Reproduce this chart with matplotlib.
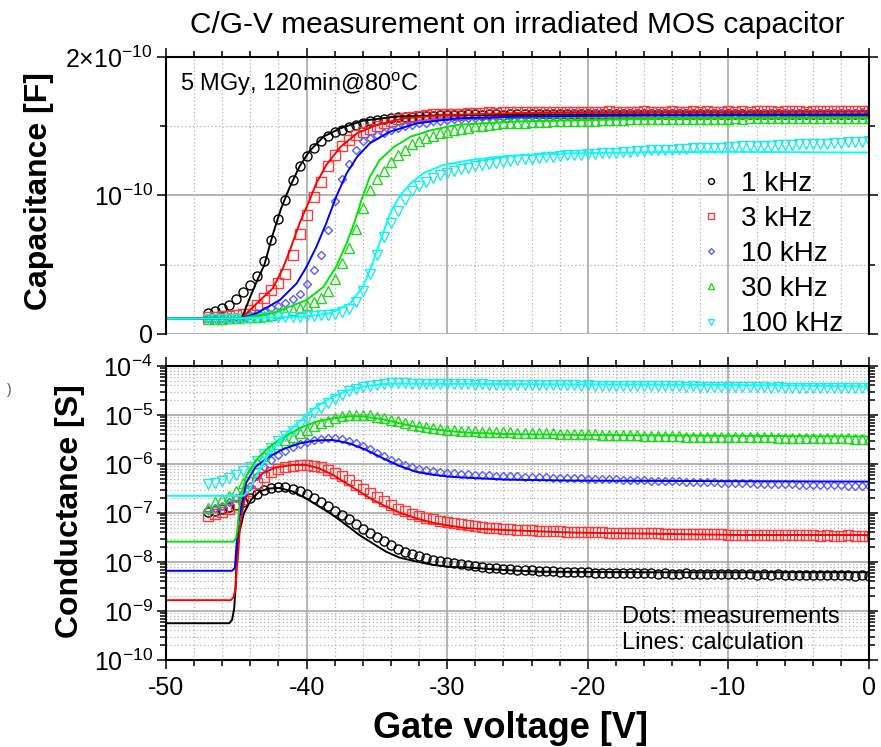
"""
C/G-V curves of an irradiated MOS capacitor: measured points and calculated lines.
"""

import numpy as np
import matplotlib
matplotlib.use('Agg')
import matplotlib.pyplot as plt
from matplotlib.ticker import MultipleLocator, FixedLocator, FixedFormatter, LogLocator, NullFormatter

plt.rcParams['font.family'] = 'Liberation Sans'
plt.rcParams['mathtext.fontset'] = 'custom'
plt.rcParams['mathtext.rm'] = 'Liberation Sans'
plt.rcParams['mathtext.it'] = 'Liberation Sans:italic'
plt.rcParams['mathtext.bf'] = 'Liberation Sans:bold'
plt.rcParams['mathtext.default'] = 'regular'
plt.rcParams['axes.unicode_minus'] = False

freq_labels = ['1 kHz', '3 kHz', '10 kHz', '30 kHz', '100 kHz']

# Measurement sweep: -47 V ... 0 V in 0.5 V steps
v_meas = np.linspace(-47, 0, 95)

# Measured capacitance [pF]
c_meas_1k = [15.5, 16.5, 18.5, 21, 25, 30, 35.5, 42, 53, 68,
             83, 97, 111, 121, 128.5, 134.5, 139.5, 143, 145.5, 147.5,
             149.5, 151, 152.5, 153.5, 154.5, 155.5, 156, 156.5, 157, 157,
             157.5, 157.5, 157.5, 158, 158, 158, 158, 158.5, 158.5, 158,
             158.5, 158.5, 158, 158.5, 158.5, 158.5, 158.5, 159, 158.5, 158.5,
             158.5, 158.5, 159, 158.5, 158.5, 158.5, 159, 158.5, 158.5, 158.5,
             158.5, 159, 158.5, 158.5, 158.5, 158.5, 158.5, 159, 158.5, 158.5,
             158.5, 158.5, 158.5, 158.5, 159, 158.5, 158.5, 158.5, 158.5, 158.5,
             158.5, 158.5, 158.5, 158.5, 158.5, 159, 158.5, 158.5, 158.5, 158.5,
             158.5, 158.5, 158.5, 158.5, 158.5]
c_meas_3k = [12.5, 12.5, 13, 13, 13.5, 14.5, 17, 21, 26, 32,
             37, 43, 57, 72, 86, 99, 110, 121, 129, 136,
             140, 143.5, 146, 148, 150, 152, 153.5, 155, 156, 157,
             157.5, 158, 158.5, 158.5, 159, 159, 159, 159.5, 159.5, 159.5,
             160, 159.5, 160, 160, 160, 160, 160.5, 160, 160, 160.5,
             160.5, 160, 160.5, 160.5, 160.5, 160.5, 160.5, 161, 160.5, 160.5,
             160.5, 160.5, 161, 160.5, 160.5, 160.5, 161, 160.5, 160.5, 161,
             160.5, 161, 160.5, 160.5, 161, 160.5, 161, 160.5, 161, 161,
             161, 160.5, 161, 161, 161, 160.5, 161, 161, 161, 161,
             161, 161, 161, 161, 161]
c_meas_10k = [11.5, 11.5, 11.5, 12, 12, 12.5, 13.5, 15, 16.5, 18.5,
              20, 22.5, 25, 29, 36, 46, 57, 75, 96, 112,
              123, 133, 139, 141.5, 143.5, 145, 147, 148.5, 150, 151,
              152, 152.5, 153.5, 154, 154.5, 155, 155.5, 156, 156, 156.5,
              156.5, 157, 157, 157, 157.5, 157.5, 157.5, 158, 158, 158,
              158, 158, 158.5, 158, 158.5, 158.5, 158.5, 158.5, 158.5, 159,
              158.5, 158.5, 159, 158.5, 159, 159, 158.5, 159, 159, 159,
              159, 159, 159, 159.5, 159, 159, 159, 159.5, 159, 159.5,
              159.5, 159, 159.5, 159.5, 159.5, 159, 159.5, 159.5, 159.5, 159.5,
              159.5, 159.5, 159.5, 160, 159.5]
c_meas_30k = [11, 11, 11, 11.5, 11.5, 12, 12, 12.5, 13, 14,
              15, 16, 17.5, 19, 21, 23, 26, 31, 40, 51,
              62, 76, 91, 104, 112, 118, 124, 129, 133, 137,
              139.5, 141.5, 143, 145, 146, 147, 148, 149, 150, 150.5,
              151, 151.5, 152, 152, 152.5, 152.5, 153, 153, 153, 153.5,
              153.5, 153.5, 154, 154, 154, 154, 154.5, 154.5, 154.5, 154.5,
              155, 155, 155, 155, 155, 155, 155.5, 155, 155.5, 155.5,
              155.5, 155.5, 155.5, 155.5, 155.5, 156, 155.5, 156, 156, 156,
              156, 156, 156, 156, 156, 156, 156, 156, 156, 156,
              156, 156, 156, 156, 156]
c_meas_100k = [10.5, 10.5, 10.5, 11, 11, 11, 11, 11.5, 11.5, 12,
               12, 12, 12.5, 12.5, 13, 13, 13.5, 14, 14.5, 16,
               18, 23, 31, 43, 57, 70, 80, 89, 97, 103,
               107, 110, 112.5, 114.5, 116, 117.5, 119, 120, 121, 122,
               123, 123.5, 124, 125, 125.5, 126, 126.5, 127, 127.5, 128,
               128.5, 129, 129, 129.5, 130, 130, 130.5, 131, 131, 131.5,
               131.5, 132, 132, 132.5, 132.5, 133, 133, 133.5, 133.5, 134,
               134, 134, 134.5, 134.5, 135, 135, 135.5, 135.5, 135.5, 136,
               136, 136.5, 136.5, 136.5, 137, 137, 137.5, 137.5, 137.5, 138,
               138, 138.5, 138.5, 138.5, 139]

# Measured conductance, log10(G / S)
g_meas_1k = [-6.98, -6.95, -6.92, -6.88, -6.83, -6.77, -6.70, -6.62, -6.54, -6.49,
             -6.47, -6.48, -6.51, -6.56, -6.62, -6.69, -6.77, -6.86, -6.95, -7.05,
             -7.12, -7.22, -7.32, -7.41, -7.50, -7.58, -7.66, -7.73, -7.79, -7.84,
             -7.88, -7.92, -7.95, -7.98, -8.00, -8.03, -8.05, -8.07, -8.09, -8.10,
             -8.12, -8.13, -8.14, -8.15, -8.16, -8.17, -8.17, -8.18, -8.19, -8.19,
             -8.20, -8.20, -8.21, -8.21, -8.21, -8.22, -8.22, -8.22, -8.23, -8.23,
             -8.23, -8.23, -8.22, -8.23, -8.24, -8.23, -8.24, -8.24, -8.23, -8.24,
             -8.24, -8.24, -8.25, -8.24, -8.25, -8.25, -8.24, -8.25, -8.26, -8.25,
             -8.26, -8.25, -8.26, -8.26, -8.27, -8.26, -8.27, -8.27, -8.26, -8.27,
             -8.27, -8.27, -8.28, -8.27, -8.28]
g_meas_3k = [-7.07, -7.03, -6.99, -6.92, -6.84, -6.72, -6.55, -6.38, -6.26, -6.17,
             -6.10, -6.06, -6.04, -6.02, -6.02, -6.04, -6.07, -6.12, -6.18, -6.25,
             -6.33, -6.42, -6.51, -6.60, -6.68, -6.76, -6.84, -6.91, -6.97, -7.02,
             -7.06, -7.10, -7.13, -7.16, -7.19, -7.21, -7.23, -7.25, -7.27, -7.28,
             -7.30, -7.31, -7.32, -7.33, -7.34, -7.35, -7.35, -7.36, -7.36, -7.37,
             -7.37, -7.38, -7.38, -7.38, -7.39, -7.39, -7.39, -7.40, -7.40, -7.40,
             -7.40, -7.41, -7.41, -7.41, -7.41, -7.42, -7.42, -7.42, -7.42, -7.43,
             -7.43, -7.43, -7.43, -7.43, -7.44, -7.44, -7.44, -7.44, -7.44, -7.44,
             -7.45, -7.44, -7.45, -7.45, -7.45, -7.45, -7.45, -7.46, -7.45, -7.46,
             -7.46, -7.45, -7.46, -7.46, -7.46]
g_meas_10k = [-6.94, -6.90, -6.85, -6.78, -6.70, -6.60, -6.45, -6.25, -6.07, -5.92,
              -5.82, -5.74, -5.66, -5.60, -5.55, -5.51, -5.49, -5.48, -5.48, -5.50,
              -5.54, -5.58, -5.63, -5.70, -5.77, -5.84, -5.91, -5.97, -6.02, -6.06,
              -6.10, -6.13, -6.15, -6.17, -6.18, -6.19, -6.20, -6.21, -6.22, -6.22,
              -6.23, -6.24, -6.24, -6.25, -6.25, -6.26, -6.26, -6.27, -6.27, -6.28,
              -6.28, -6.28, -6.29, -6.29, -6.30, -6.30, -6.31, -6.31, -6.31, -6.32,
              -6.32, -6.33, -6.33, -6.34, -6.34, -6.34, -6.35, -6.35, -6.36, -6.36,
              -6.36, -6.37, -6.37, -6.38, -6.38, -6.38, -6.39, -6.39, -6.40, -6.40,
              -6.40, -6.41, -6.41, -6.41, -6.42, -6.42, -6.42, -6.43, -6.43, -6.43,
              -6.43, -6.44, -6.44, -6.44, -6.44]
g_meas_30k = [-6.90, -6.78, -6.72, -6.65, -6.55, -6.38, -6.16, -5.98, -5.83, -5.70,
              -5.60, -5.52, -5.45, -5.37, -5.30, -5.23, -5.17, -5.12, -5.07, -5.03,
              -5.01, -5.00, -5.00, -5.01, -5.04, -5.07, -5.10, -5.13, -5.17, -5.20,
              -5.23, -5.25, -5.27, -5.29, -5.30, -5.31, -5.32, -5.33, -5.33, -5.34,
              -5.34, -5.35, -5.35, -5.35, -5.36, -5.36, -5.36, -5.37, -5.37, -5.37,
              -5.38, -5.38, -5.38, -5.39, -5.39, -5.39, -5.40, -5.40, -5.40, -5.41,
              -5.41, -5.41, -5.42, -5.42, -5.42, -5.43, -5.43, -5.43, -5.44, -5.44,
              -5.44, -5.44, -5.45, -5.45, -5.45, -5.45, -5.46, -5.46, -5.46, -5.46,
              -5.46, -5.47, -5.47, -5.47, -5.47, -5.47, -5.48, -5.48, -5.48, -5.48,
              -5.48, -5.48, -5.49, -5.49, -5.49]
g_meas_100k = [-6.41, -6.39, -6.35, -6.29, -6.22, -6.15, -6.07, -5.93, -5.80, -5.67,
               -5.54, -5.43, -5.32, -5.20, -5.08, -4.97, -4.86, -4.76, -4.67, -4.59,
               -4.52, -4.47, -4.43, -4.40, -4.38, -4.36, -4.35, -4.35, -4.35, -4.36,
               -4.36, -4.36, -4.36, -4.37, -4.37, -4.37, -4.37, -4.37, -4.38, -4.37,
               -4.38, -4.38, -4.38, -4.38, -4.38, -4.39, -4.38, -4.39, -4.39, -4.39,
               -4.39, -4.39, -4.39, -4.40, -4.39, -4.40, -4.40, -4.40, -4.40, -4.40,
               -4.40, -4.41, -4.40, -4.41, -4.41, -4.41, -4.41, -4.41, -4.42, -4.41,
               -4.42, -4.42, -4.42, -4.42, -4.43, -4.42, -4.43, -4.43, -4.43, -4.43,
               -4.44, -4.43, -4.44, -4.44, -4.44, -4.44, -4.45, -4.44, -4.45, -4.45,
               -4.45, -4.45, -4.46, -4.45, -4.46]

# Calculated capacitance [pF]
v_calc_c_1k = [-50, -44.6, -44.0, -43.5, -43.0, -42.4, -41.8, -41.2, -40.5, -39.8,
               -38.8, -37.6, -36.0, -33.6, -30, -20, 0]
c_calc_1k = [11, 11.5, 27, 39, 50, 72, 91, 106, 121, 132,
             142.5, 148.5, 154, 157, 158, 158.5, 158.5]
v_calc_c_3k = [-50, -44.6, -43.55, -42.4, -41.7, -41.2, -40.5, -39.9, -39.3, -38.6,
               -37.6, -36.4, -35.0, -33.1, -30.3, -25, -20, 0]
c_calc_3k = [11, 11.5, 22, 33, 47, 60, 80, 94, 109, 122,
             135, 145, 151, 155.7, 158, 159.5, 160, 160.5]
v_calc_c_10k = [-50, -44.6, -43.55, -41.9, -40.7, -40.0, -39.3, -38.6, -37.9, -37.15,
                -36.4, -35.5, -34.1, -32.2, -29.3, -25, -15, 0]
c_calc_10k = [11, 11.5, 15, 24.5, 36.6, 48.6, 63, 80, 99, 116,
              128, 137.7, 146, 152, 155.7, 157, 158, 158]
v_calc_c_30k = [-50, -44.6, -42.4, -40.0, -38.8, -37.9, -37.15, -36.55, -36.1, -35.5,
                -34.8, -33.8, -32.6, -31.2, -29.3, -25, -15, 0]
c_calc_30k = [11, 11.5, 15, 24.5, 34, 48.6, 65.5, 82, 96.7, 113.6,
              125.6, 135, 142.5, 147, 151, 153.5, 155.5, 156]
v_calc_c_100k = [-50, -44.6, -40.2, -38.3, -36.9, -36.0, -35.4, -34.9, -34.4, -33.95,
                 -33.35, -32.6, -31.7, -30.3, -28.1, -25.8, -21, -15, -10, 0]
c_calc_100k = [11, 11.3, 12.5, 15, 22, 34, 48.6, 63, 77.5, 89.5,
               100, 108.8, 116, 122, 126, 128.5, 130.5, 131.3, 131.5, 131]

# Calculated conductance, log10(G / S)
v_calc_g_1k = [-50, -45.5, -45.3, -45.15, -45.05, -44.97, -44.8, -44.45, -43.95, -43.35,
               -42.65, -41.95, -41.0, -40.05, -39.1, -38.15, -37.2, -36.25, -35.3, -34.35,
               -33.4, -32.2, -31.0, -29.85, -28.65, -26.2, -23.4, -15, 0]
g_calc_1k = [-9.25, -9.25, -9.18, -8.95, -8.5, -7.96, -7.41, -7.0, -6.73, -6.56,
             -6.50, -6.49, -6.56, -6.70, -6.87, -7.04, -7.24, -7.45, -7.62, -7.79,
             -7.91, -7.99, -8.06, -8.10, -8.11, -8.16, -8.20, -8.21, -8.21]
v_calc_g_3k = [-50, -45.4, -45.2, -45.05, -44.97, -44.9, -44.74, -44.43, -43.84, -43.12,
               -42.18, -41.0, -40.04, -39.1, -38.15, -37.2, -36.25, -35.3, -34.35, -33.4,
               -32.2, -31.03, -29.85, -28.66, -25.8, -21.1, -9.2, 0]
g_calc_3k = [-8.78, -8.78, -8.72, -8.55, -8.1, -7.96, -7.28, -6.73, -6.39, -6.19,
             -6.07, -6.02, -6.02, -6.09, -6.22, -6.39, -6.56, -6.73, -6.87, -6.99,
             -7.11, -7.20, -7.26, -7.31, -7.35, -7.40, -7.45, -7.45]
v_calc_g_10k = [-50, -45.3, -45.1, -44.97, -44.85, -44.67, -44.31, -43.6, -42.65, -41.7,
                -40.5, -39.33, -38.15, -36.96, -35.78, -34.59, -33.4, -32.2, -31.03, -29.85,
                -28.66, -25.8, -21, 0]
g_calc_10k = [-8.18, -8.18, -8.12, -7.6, -7.2, -6.94, -6.39, -6.05, -5.85, -5.70,
              -5.58, -5.52, -5.51, -5.58, -5.71, -5.88, -6.04, -6.16, -6.22, -6.26,
              -6.28, -6.32, -6.34, -6.36]
v_calc_g_30k = [-50, -45.2, -45.0, -44.9, -44.74, -44.31, -43.6, -42.65, -41.7, -40.5,
                -39.33, -38.15, -36.96, -36.0, -34.59, -33.4, -32.2, -31.03, -29.85, -28.66,
                -25.8, -20, 0]
g_calc_30k = [-7.585, -7.585, -7.5, -7.28, -6.73, -6.26, -5.92, -5.65, -5.46, -5.27,
              -5.14, -5.07, -5.03, -5.03, -5.09, -5.17, -5.24, -5.29, -5.33, -5.36,
              -5.39, -5.41, -5.44]
v_calc_g_100k = [-50, -44.5, -44.2, -43.95, -43.36, -42.65, -41.7, -40.5, -39.33, -38.15,
                 -36.96, -35.78, -34.59, -33.4, -25, -15, -5, 0]
g_calc_100k = [-6.65, -6.65, -6.58, -6.46, -6.12, -5.78, -5.44, -5.14, -4.83, -4.63,
               -4.49, -4.41, -4.37, -4.36, -4.37, -4.38, -4.40, -4.42]

c_meas = [c_meas_1k, c_meas_3k, c_meas_10k, c_meas_30k, c_meas_100k]
g_meas = [g_meas_1k, g_meas_3k, g_meas_10k, g_meas_30k, g_meas_100k]
c_calc = [(v_calc_c_1k, c_calc_1k), (v_calc_c_3k, c_calc_3k), (v_calc_c_10k, c_calc_10k),
          (v_calc_c_30k, c_calc_30k), (v_calc_c_100k, c_calc_100k)]
g_calc = [(v_calc_g_1k, g_calc_1k), (v_calc_g_3k, g_calc_3k), (v_calc_g_10k, g_calc_10k),
          (v_calc_g_30k, g_calc_30k), (v_calc_g_100k, g_calc_100k)]

marker_colors = ['black', '#ff3a3a', '#5a5aff', '#22d622', '#22e8e8']
line_colors = ['black', '#ff0000', '#0000ff', '#00e600', '#00ffff']
markers = ['o', 's', 'D', '^', 'v']
marker_sizes = [6.5, 6.5, 4.5, 6.5, 6.5]

fig = plt.figure(figsize=(8.81, 7.47), dpi=100)
ax_c = fig.add_axes([0.1884, 0.5529, 0.798, 0.3708])
ax_g = fig.add_axes([0.1884, 0.1165, 0.798, 0.3936])

handles = []
for i in range(5):
    h, = ax_c.plot(v_meas, np.array(c_meas[i]) * 1e-12, linestyle='none',
                   marker=markers[i], ms=marker_sizes[i], mfc='none',
                   mec=marker_colors[i], mew=1.0, label=freq_labels[i])
    handles.append(h)
    ax_g.plot(v_meas, 10 ** np.array(g_meas[i]), linestyle='none',
              marker=markers[i], ms=marker_sizes[i], mfc='none',
              mec=marker_colors[i], mew=1.0)
for i in range(5):
    ax_c.plot(c_calc[i][0], np.array(c_calc[i][1]) * 1e-12, color=line_colors[i], lw=1.4)
    ax_g.plot(g_calc[i][0], 10 ** np.array(g_calc[i][1]), color=line_colors[i], lw=1.4)

# Axes styling shared by both panels
for ax in (ax_c, ax_g):
    ax.set_xlim(-50, 0)
    ax.xaxis.set_major_locator(MultipleLocator(10))
    ax.xaxis.set_minor_locator(MultipleLocator(2))
    ax.grid(True, which='major', color='#a8a8a8', lw=1.2, ls='-')
    ax.grid(True, which='minor', color='#b4b4b4', lw=0.9, ls=(0, (1, 2)))
    ax.set_axisbelow(True)
    for s in ax.spines.values():
        s.set_linewidth(1.5)
    ax.tick_params(which='both', direction='out', top=True, right=True,
                   width=1.1, labelsize=18, pad=3)
    ax.tick_params(which='major', length=6.5)
    ax.tick_params(which='minor', length=4)

# Top panel: capacitance
ax_c.set_ylim(0, 2e-10)
ax_c.yaxis.set_major_locator(FixedLocator([0, 1e-10, 2e-10]))
ax_c.yaxis.set_major_formatter(FixedFormatter(['0', r'$10^{-10}$', r'$2{\times}10^{-10}$']))
ax_c.yaxis.set_minor_locator(FixedLocator([0.5e-10, 1.5e-10]))
ax_c.spines['bottom'].set_visible(False)
ax_c.tick_params(which='both', bottom=False, labelbottom=False)

ax_c.text(0.02, 0.9, r'5 MGy, 120min@80$^{\rm o}$C', transform=ax_c.transAxes,
          fontsize=17, va='center', ha='left')
ax_c.legend(handles=handles, loc='upper left', bbox_to_anchor=(0.759, 0.59),
            frameon=False, fontsize=20, handlelength=0.8, handletextpad=0.7,
            labelspacing=0.33, borderpad=0, borderaxespad=0, markerscale=0.65)

# Bottom panel: conductance
ax_g.set_yscale('log')
ax_g.set_ylim(1e-10, 1e-4)
ax_g.yaxis.set_major_locator(LogLocator(base=10, numticks=10))
ax_g.yaxis.set_minor_locator(LogLocator(base=10, subs=np.arange(2, 10), numticks=20))
ax_g.yaxis.set_minor_formatter(NullFormatter())
ax_g.tick_params(axis='x', pad=5)

ax_g.text(0.649, 0.146, 'Dots: measurements', transform=ax_g.transAxes,
          fontsize=17, va='center', ha='left')
ax_g.text(0.649, 0.058, 'Lines: calculation', transform=ax_g.transAxes,
          fontsize=17, va='center', ha='left')

fig.text(517 / 881, 1 - 33 / 747, 'C/G-V measurement on irradiated MOS capacitor',
         fontsize=21.5, ha='center', va='baseline')
fig.text(39 / 881, 1 - 191 / 747, 'Capacitance [F]', rotation=90, fontsize=23,
         fontweight='bold', ha='center', va='center')
fig.text(70 / 881, 1 - 511 / 747, 'Conductance [S]', rotation=90, fontsize=23,
         fontweight='bold', ha='center', va='center')
fig.text(510 / 881, 1 - 738 / 747, 'Gate voltage [V]', fontsize=26,
         fontweight='bold', ha='center', va='baseline')
fig.text(0.008, 1 - 390 / 747, ')', fontsize=10, color='#555555', va='center')

fig.savefig('out.png', dpi=100)
